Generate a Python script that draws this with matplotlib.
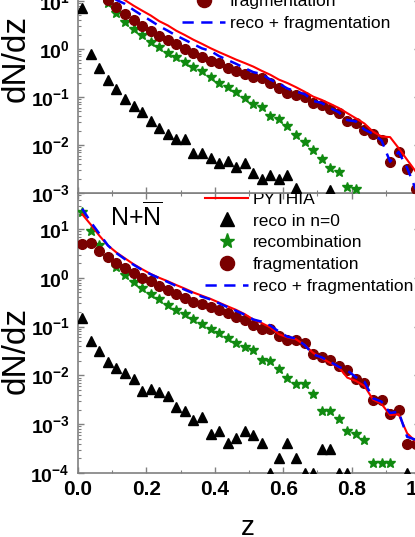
import numpy as np
import matplotlib
matplotlib.use("Agg")
import matplotlib.pyplot as plt
from matplotlib.ticker import LogLocator, MultipleLocator, FuncFormatter, FormatStrFormatter, NullFormatter

plt.rcParams["font.family"] = ["Liberation Sans", "DejaVu Sans"]
plt.rcParams["mathtext.fontset"] = "custom"
plt.rcParams["mathtext.rm"] = "Liberation Sans"
plt.rcParams["mathtext.bf"] = "Liberation Sans:bold"

nan = np.nan

# bin centres in z
z = [0.0125, 0.0375, 0.0625, 0.0875, 0.1125, 0.1375, 0.1625, 0.1875, 0.2125, 0.2375,
     0.2625, 0.2875, 0.3125, 0.3375, 0.3625, 0.3875, 0.4125, 0.4375, 0.4625, 0.4875,
     0.5125, 0.5375, 0.5625, 0.5875, 0.6125, 0.6375, 0.6625, 0.6875, 0.7125, 0.7375,
     0.7625, 0.7875, 0.8125, 0.8375, 0.8625, 0.8875, 0.9125, 0.9375, 0.9625, 0.9875]

labels = ["PYTHIA", "reco in n=0", "recombination", "fragmentation", "reco + fragmentation"]

# upper panel (only the lower part is visible)
top_pythia = [nan, nan, nan, nan, 13.5, 10.4, 8.0, 6.3, 5.0, 3.8,
              3.1, 2.4, 1.95, 1.56, 1.28, 1.04, 0.86, 0.72, 0.60, 0.51,
              0.43, 0.35, 0.29, 0.23, 0.195, 0.16, 0.129, 0.102, 0.087, 0.072,
              0.059, 0.046, 0.036, 0.028, 0.019, 0.015, 0.0146, 0.0086, 0.0049, 0.0028]
top_reco0 = [7.3, 0.79, 0.40, 0.226, 0.145, 0.089, 0.065, 0.048, 0.031, 0.023,
             0.017, 0.0133, 0.0133, 0.0068, 0.0068, 0.0053, 0.0042, 0.0046, 0.0035, 0.0042,
             0.0026, 0.0020, 0.0024, 0.0020, 0.0024, 0.00127, nan, nan, nan, 0.00113,
             nan, nan, nan, nan, nan, nan, nan, nan, nan, nan]
top_recomb = [nan, nan, nan, 9.1, 5.5, 3.7, 2.6, 1.95, 1.42, 1.08,
              0.83, 0.67, 0.53, 0.43, 0.35, 0.26, 0.20, 0.165, 0.13, 0.096,
              0.072, 0.061, 0.041, 0.035, 0.025, 0.016, 0.0115, 0.0077, 0.0051, 0.0033,
              0.0027, 0.00133, 0.00123, nan, nan, nan, nan, nan, nan, nan]
top_frag = [nan, nan, nan, 10.3, 7.6, 5.4, 4.0, 3.0, 2.35, 1.86,
            1.55, 1.27, 1.0, 0.81, 0.69, 0.57, 0.50, 0.41, 0.35, 0.30,
            0.26, 0.25, 0.195, 0.155, 0.122, 0.112, 0.102, 0.076, 0.069, 0.057,
            0.046, 0.032, 0.029, 0.021, 0.0166, 0.0129, 0.0044, 0.0071, 0.0032, 0.0012]
top_sum = [nan, nan, nan, 14.0, 10.5, 8.7, 6.5, 5.0, 3.9, 3.0,
           2.4, 1.9, 1.55, 1.26, 1.03, 0.91, 0.71, 0.59, 0.49, 0.40,
           0.33, 0.30, 0.23, 0.19, 0.15, 0.13, 0.115, 0.083, 0.075, 0.059,
           0.048, 0.033, 0.031, 0.021, 0.017, 0.0124, 0.0045, 0.0072, 0.0033, 0.0012]

# lower panel: N + anti-N
bot_pythia = [20.0, 12.3, 7.3, 4.6, 3.3, 2.5, 1.9, 1.5, 1.2, 1.0,
              0.85, 0.71, 0.60, 0.50, 0.43, 0.37, 0.31, 0.26, 0.22, 0.18,
              0.14, 0.118, 0.096, 0.070, 0.060, 0.055, 0.042, 0.029, 0.0225, 0.018,
              0.0147, 0.0090, 0.0077, 0.0061, 0.0032, 0.0026, 0.00154, 0.0016, 0.00065, 0.00044]
bot_reco0 = [0.15, 0.051, 0.031, 0.0185, 0.0140, 0.011, 0.0083, 0.0049, 0.0053, 0.0045,
             0.0038, 0.0023, 0.0019, 0.00123, 0.00143, 0.00062, 0.00073, 0.00042, 0.00051, 0.00072,
             0.00061, 0.00042, 0.0001, 0.000205, 0.00042, 0.000205, 0.0001, 0.0001, 0.00031, 0.00031,
             0.0001, 0.0001, nan, nan, nan, nan, nan, nan, 0.0001, nan]
bot_recomb = [22.0, 8.9, 4.6, 2.7, 1.67, 1.15, 0.81, 0.62, 0.47, 0.36,
              0.28, 0.22, 0.18, 0.145, 0.115, 0.091, 0.074, 0.059, 0.047, 0.038,
              0.033, 0.021, 0.0195, 0.0134, 0.0088, 0.0066, 0.0066, 0.0042, 0.0019, 0.0019,
              0.00128, 0.00071, 0.00062, 0.00048, 0.000158, 0.000158, 0.000158, nan, nan, nan]
bot_frag = [4.9, 5.1, 3.6, 2.7, 2.0, 1.6, 1.26, 1.0, 0.85, 0.69,
            0.57, 0.47, 0.39, 0.32, 0.29, 0.25, 0.22, 0.19, 0.155, 0.135,
            0.11, 0.091, 0.088, 0.065, 0.053, 0.053, 0.047, 0.027, 0.0235, 0.021,
            0.0156, 0.0129, 0.0085, 0.0069, 0.0032, 0.0032, 0.0016, 0.0020, 0.0004, 0.0004]
bot_sum = [26.0, 13.8, 8.0, 4.6, 3.2, 2.4, 1.85, 1.45, 1.18, 0.98,
           0.82, 0.68, 0.57, 0.48, 0.41, 0.36, 0.30, 0.25, 0.21, 0.175,
           0.14, 0.126, 0.105, 0.079, 0.062, 0.057, 0.042, 0.027, 0.0234, 0.019,
           0.015, 0.0126, 0.0092, 0.0074, 0.0034, 0.0029, 0.0017, 0.0018, 0.00055, 0.00048]

GREY = "#808080"


def draw(ax, pythia, reco0, recomb, frag, total):
    l1, = ax.plot(z, pythia, color="red", lw=1.5, zorder=4)
    l2, = ax.plot(z, reco0, ls="none", marker="^", ms=6.5, color="black", zorder=3)
    l3, = ax.plot(z, recomb, ls="none", marker="*", ms=7.5, color="#108a10", zorder=3)
    l4, = ax.plot(z, frag, ls="none", marker="o", ms=7, color="#7a0000", zorder=3)
    l5, = ax.plot(z, total, color="blue", lw=1.8, dashes=(4.5, 3), zorder=5)
    return [l1, l2, l3, l4, l5]


def style(ax, ylo, yhi):
    ax.set_yscale("log")
    ax.set_xlim(0, 1.0)
    ax.set_ylim(ylo, yhi)
    for s in ax.spines.values():
        s.set_color(GREY)
        s.set_linewidth(1.2)
    ax.xaxis.set_major_locator(MultipleLocator(0.2))
    ax.xaxis.set_minor_locator(MultipleLocator(0.1))
    ax.yaxis.set_major_locator(LogLocator(base=10, numticks=20))
    ax.yaxis.set_minor_locator(LogLocator(base=10, subs=np.arange(2, 10), numticks=20))
    ax.yaxis.set_minor_formatter(NullFormatter())
    ax.yaxis.set_major_formatter(FuncFormatter(
        lambda v, p: r"$\mathbf{10^{%d}}$" % int(round(np.log10(v)))))
    ax.tick_params(which="both", direction="in", top=True, right=True, color=GREY)
    ax.tick_params(which="major", length=4, width=1.0)
    ax.tick_params(which="minor", length=2.5, width=0.8)
    ax.tick_params(axis="y", labelsize=14, pad=6)
    ax.tick_params(axis="x", labelsize=15, pad=5)
    for t in ax.get_xticklabels() + ax.get_yticklabels():
        t.set_fontweight("bold")


fig = plt.figure(figsize=(4.15, 5.37), dpi=100)
ax_bot = fig.add_axes([78 / 415, 64 / 537, 342 / 415, 280 / 537])
ax_top = fig.add_axes([78 / 415, 344 / 537, 342 / 415, 268 / 537])

h_top = draw(ax_top, top_pythia, top_reco0, top_recomb, top_frag, top_sum)
h_bot = draw(ax_bot, bot_pythia, bot_reco0, bot_recomb, bot_frag, bot_sum)

style(ax_top, 1e-3, 383)
style(ax_bot, 1e-4, 54.7)
ax_top.tick_params(axis="x", labelbottom=False)
ax_bot.xaxis.set_major_formatter(FormatStrFormatter("%.1f"))
for t in ax_bot.get_xticklabels():
    t.set_fontweight("bold")

leg_kw = dict(frameon=False, fontsize=12.5, loc="upper left", borderpad=0, borderaxespad=0,
              handlelength=2.5, handletextpad=0.25, labelspacing=0.38, markerscale=1.45)
ax_top.legend(h_top, labels, bbox_to_anchor=(0.304, 0.985), **leg_kw)
ax_bot.legend(h_bot, labels, bbox_to_anchor=(0.371, 1.005), **leg_kw)

ax_bot.text(0.094, 0.882, r"N+$\overline{\mathrm{N}}$", transform=ax_bot.transAxes,
            fontsize=18, ha="left", va="baseline")

fig.text(16 / 415, 1 - 58 / 537, "dN/dz", rotation=90, fontsize=24, ha="center", va="center")
fig.text(16 / 415, 1 - 351 / 537, "dN/dz", rotation=90, fontsize=24, ha="center", va="center")
fig.text(248 / 415, 1 - 528 / 537, "z", fontsize=20, ha="center", va="center")

fig.savefig("out.png", dpi=100)
